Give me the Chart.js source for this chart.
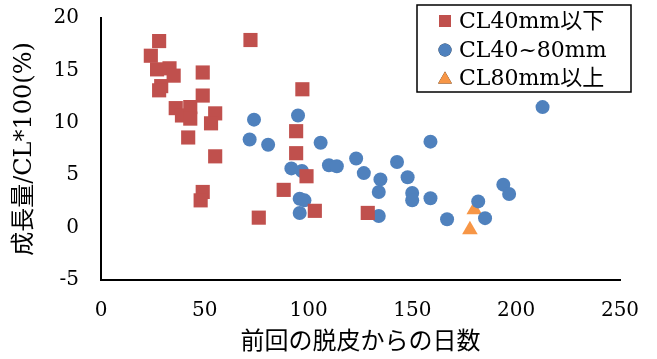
<!DOCTYPE html>
<html><head><meta charset="utf-8">
<script src="https://cdn.jsdelivr.net/npm/chart.js@4/dist/chart.umd.min.js"></script>
<style>html,body{margin:0;padding:0;background:#fff}#wrap{width:657px;height:359px}</style>
</head><body><div id="wrap"><canvas id="c" width="657" height="359"></canvas></div>
<script>
const seriesLabels = ['CL40mm以下', 'CL40~80mm', 'CL80mm以上'];
const xTicks = [0, 50, 100, 150, 200, 250];
const yTicks = [-5, 0, 5, 10, 15, 20];

const smallX = [28, 24, 27, 33, 35, 29, 28, 49, 49, 72, 97, 36, 39, 43, 43, 55, 53, 42, 55, 94, 94, 99, 49, 48, 88, 103, 76, 128.5];
const smallY = [17.8, 16.4, 15.1, 15.2, 14.5, 13.5, 13.1, 14.8, 12.6, 17.9, 13.2, 11.4, 10.7, 11.5, 10.4, 10.9, 9.95, 8.6, 6.8, 9.2, 7.1, 4.9, 3.4, 2.6, 3.6, 1.6, 0.95, 1.4];

const midX = [73.7, 94.9, 71.6, 80.5, 105.8, 91.7, 96.8, 109.8, 113.6, 95.7, 98, 95.7, 212.7, 158.7, 122.9, 142.6, 126.6, 134.6, 147.7, 133.8, 149.9, 149.9, 158.7, 133.8, 166.7, 181.7, 185, 193.8, 196.6];
const midY = [10.3, 10.7, 8.4, 7.9, 8.1, 5.65, 5.4, 5.95, 5.85, 2.75, 2.6, 1.4, 11.5, 8.2, 6.6, 6.26, 5.2, 4.6, 4.8, 3.4, 3.3, 2.6, 2.8, 1.1, 0.8, 2.5, 0.9, 4.1, 3.2];

const largeX = [179.8, 177.7];
const largeY = [1.7, -0.2];

const colors = ['#C0504D', '#4F81BD', '#F79646'];
const styles = ['rect', 'circle', 'triangle'];
const radii = [10, 7, 9];
const legendRadii = [8.5, 6.5, 8];

function pts(xs, ys) { return xs.map((x, i) => ({x: x, y: ys[i]})); }
const allData = [pts(smallX, smallY), pts(midX, midY), pts(largeX, largeY)];

const FONT = "'DejaVu Serif', 'Liberation Serif', 'Noto Sans CJK JP', serif";

const legendPlugin = {
  id: 'boxLegend',
  afterDraw(chart) {
    const ctx = chart.ctx;
    const bx = 417, by = 5, bw = 214, bh = 87;
    ctx.save();
    ctx.fillStyle = '#fff';
    ctx.fillRect(bx, by, bw, bh);
    ctx.strokeStyle = '#000';
    ctx.lineWidth = 1.5;
    ctx.strokeRect(bx, by, bw, bh);
    const rows = [21, 50, 78];
    chart.data.datasets.forEach((ds, i) => {
      Chart.helpers.drawPoint(ctx, {pointStyle: styles[i], radius: legendRadii[i], rotation: 0, borderWidth: 0}, 445, rows[i] + (i === 2 ? 1.5 : 0));
      ctx.fillStyle = colors[i];
      ctx.fill();
      ctx.fillStyle = '#000';
      ctx.font = "22px " + FONT;
      ctx.textBaseline = 'middle';
      ctx.textAlign = 'left';
      ctx.fillText(ds.label, 459, rows[i] + 1);
    });
    ctx.restore();
  }
};

new Chart(document.getElementById('c'), {
  type: 'scatter',
  data: {
    datasets: allData.map((d, i) => ({
      label: seriesLabels[i],
      data: d,
      pointStyle: styles[i],
      pointRadius: radii[i],
      pointHoverRadius: radii[i],
      backgroundColor: colors[i],
      borderColor: colors[i],
      borderWidth: 0
    }))
  },
  options: {
    responsive: false,
    animation: false,
    events: [],
    layout: {padding: {top: 18, right: 37, left: 0, bottom: 0}},
    plugins: {legend: {display: false}, tooltip: {enabled: false}},
    scales: {
      x: {
        type: 'linear', min: 0, max: 250,
        afterBuildTicks: s => { s.ticks = xTicks.map(v => ({value: v})); },
        afterFit: s => { s.height = 79; s.paddingLeft = 0; s.paddingRight = 0; },
        grid: {display: false, drawTicks: false},
        border: {display: true, color: '#000', width: 2},
        ticks: {padding: 19, color: '#000', font: {family: FONT, size: 20}, maxRotation: 0},
        title: {display: true, text: '前回の脱皮からの日数', color: '#000', font: {family: FONT, size: 24}, padding: {top: 2, bottom: 2}}
      },
      y: {
        type: 'linear', min: -5, max: 20,
        afterBuildTicks: s => { s.ticks = yTicks.map(v => ({value: v})); },
        afterFit: s => { s.width = 101; s.paddingTop = 0; s.paddingBottom = 0; },
        grid: {display: false, drawTicks: false},
        border: {display: true, color: '#000', width: 2},
        ticks: {padding: 22, color: '#000', font: {family: FONT, size: 20}},
        title: {display: true, text: '成長量/CL*100(%)', color: '#000', font: {family: FONT, size: 24}, padding: {top: 10, bottom: 10}}
      }
    }
  },
  plugins: [legendPlugin]
});
</script></body></html>
